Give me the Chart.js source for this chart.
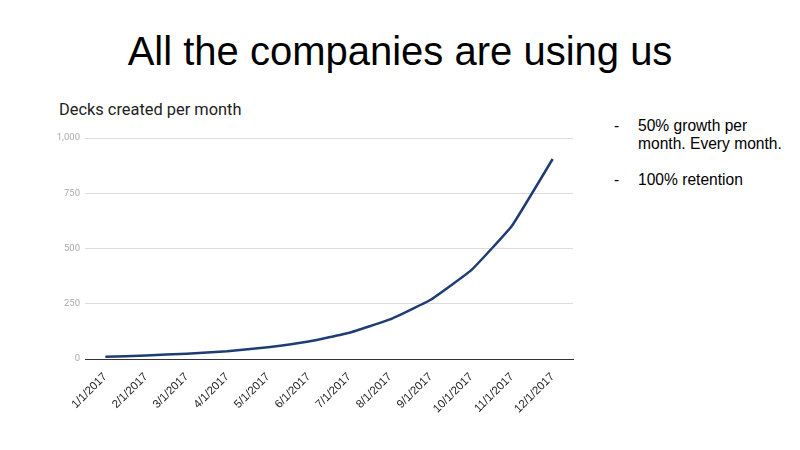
<!DOCTYPE html>
<html>
<head>
<meta charset="utf-8">
<script src="https://cdn.jsdelivr.net/npm/chart.js@4"></script>
<style>
  body { margin: 0; width: 800px; height: 450px; background: #fff; position: relative; overflow: hidden; }
  #title { position: absolute; left: 0; width: 800px; top: 29px; text-align: center;
           font-family: "Liberation Sans", Arial, sans-serif; font-size: 40px; color: #000; }
  #subtitle { position: absolute; left: 59px; top: 100px; font-family: Roboto, sans-serif; font-size: 16.4px; color: #222; }
  #notes { position: absolute; left: 614px; top: 117px; font-family: "Liberation Sans", Arial, sans-serif;
           font-size: 15.6px; color: #000; line-height: 18px; }
  #notes .row { position: relative; padding-left: 24px; margin-bottom: 18px; }
  #notes .row span { position: absolute; left: 0; }
  #wrap { position: absolute; left: 20px; top: 126px; width: 560px; height: 320px; }
</style>
</head>
<body>
<div id="title">All the companies are using us</div>
<div id="subtitle">Decks created per month</div>
<div id="notes">
  <div class="row"><span>-</span>50% growth per<br>month. Every month.</div>
  <div class="row"><span>-</span>100% retention</div>
</div>
<div id="wrap"><canvas id="chart"></canvas></div>
<script>
// months on the x axis
const months = ["1/1/2017", "2/1/2017", "3/1/2017", "4/1/2017", "5/1/2017", "6/1/2017",
                "7/1/2017", "8/1/2017", "9/1/2017", "10/1/2017", "11/1/2017", "12/1/2017"];

// decks per month
const decks = [10, 16, 24, 35, 53, 79, 119, 179, 268, 402, 603, 905];

const yTicks = [0, 250, 500, 750, 1000];

const ctx = document.getElementById('chart').getContext('2d');
const myChart = new Chart(ctx, {
    type: 'line',
    data: {
        labels: months,
        datasets: [{
            label: 'Decks',
            data: decks,
            borderColor: '#1f3d73',
            borderWidth: 2.5,
            pointRadius: 0,
            tension: 0.1,
            fill: false
        }]
    },
    options: {
        responsive: true,
        maintainAspectRatio: false,
        animation: false,
        layout: { padding: { left: 5, right: 7, top: 12, bottom: 0 } },
        plugins: { legend: { display: false }, tooltip: { enabled: false } },
        scales: {
            x: {
                offset: true,
                grid: { display: false },
                border: { color: '#333', width: 1 },
                ticks: {
                    minRotation: 45, maxRotation: 45, autoSkip: false,
                    color: '#222', padding: 3,
                    font: { family: '"Liberation Sans", Arial, sans-serif', size: 11.5 }
                },
                afterFit: function (s) { s.height = 87; }
            },
            y: {
                min: 0, max: 1000,
                afterBuildTicks: function (s) { s.ticks = yTicks.map(v => ({ value: v })); },
                grid: { color: '#dcdcdc', lineWidth: 1, drawTicks: false },
                border: { display: false },
                ticks: {
                    color: '#aaa', padding: 5,
                    font: { family: 'Roboto, sans-serif', size: 9.5 },
                    callback: v => v.toLocaleString('en-US')
                },
                afterFit: function (s) { s.width = 60; }
            }
        }
    }
});
</script>
</body>
</html>
